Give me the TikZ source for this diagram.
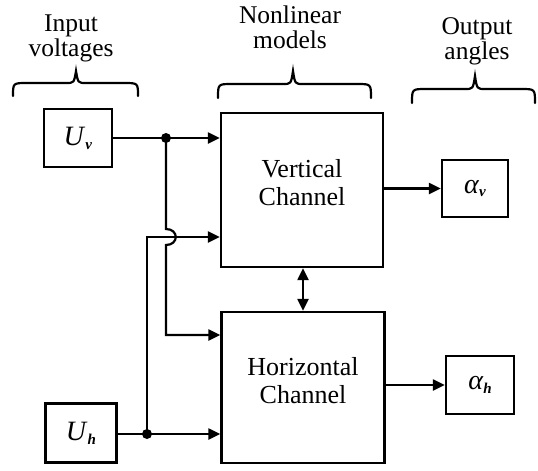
\documentclass[tikz,border=0pt]{standalone}
\usepackage{fontspec}
\setmainfont{Liberation Serif}
\usetikzlibrary{arrows.meta}
\newcommand\mylbl[2]{\textit{#1}\raisebox{-0.3ex}{\fontsize{15}{15}\selectfont\textbf{\textit{#2}}}}
\begin{document}
\begin{tikzpicture}[x=1pt,y=-1pt,
  line width=2.2pt,
  txt/.style={font=\fontsize{25.5}{25}\selectfont, align=center, inner sep=0pt},
  chn/.style={font=\fontsize{26}{28}\selectfont, align=center, inner sep=0pt},
  blk/.style={draw, line width=2.3pt, inner sep=0pt, font=\fontsize{28}{28}\selectfont},
  arr/.style={-{Triangle[length=12pt,width=11pt]}},
  dot/.style={circle, fill, inner sep=0pt, minimum size=10pt},
  brc/.style={line width=2.2pt, line cap=round}
]
\useasboundingbox (0,0) rectangle (538,471);

% headers
\node[txt] (hIn) at (71,38) {Input\\voltages};
\node[txt] (hNl) at (290,27) {Nonlinear\\models};
\node[txt] (hOut) at (477,41) {Output\\angles};

% braces
\draw[brc] (13,96) .. controls (13,83) .. (27,83) -- (66,83) .. controls (74,83) .. (76,71)
  .. controls (78,83) .. (86,83) -- (124,83) .. controls (138,83) .. (138,96);
\draw[brc] (218,98) .. controls (218,84) .. (232,84) -- (283,84) .. controls (291,84) .. (293,71)
  .. controls (295,84) .. (303,84) -- (357,84) .. controls (371,84) .. (371,98);
\draw[brc] (412,103) .. controls (412,89) .. (426,89) -- (465,89) .. controls (473,89) .. (475,76)
  .. controls (477,89) .. (485,89) -- (521,89) .. controls (535,89) .. (535,103);

% blocks
\node[blk, minimum width=68pt, minimum height=58pt] (Uv) at (78,138) {\mylbl{U}{v}};
\node[blk, minimum width=71pt, minimum height=59pt] (Uh) at (81,433) {\mylbl{U}{h}};
\node[blk, minimum width=162pt, minimum height=154pt,
  label={[chn, yshift=7pt]center:Vertical\\Channel}] (Vc) at (302,190) {};
\node[blk, minimum width=163pt, minimum height=151pt,
  label={[chn, yshift=7pt]center:Horizontal\\Channel}] (Hc) at (303,387.5) {};
\node[blk, minimum width=66pt, minimum height=57pt] (Av) at (475,188.5) {\mylbl{α}{v}};
\node[blk, minimum width=68pt, minimum height=58pt] (Ah) at (480,385) {\mylbl{α}{h}};

% junctions
\node[dot] (j1) at (166,138) {};
\node[dot] (j2) at (147,434) {};
\coordinate (hopA) at (166,229);
\coordinate (hopB) at (166,245);
\coordinate (b1) at (166,335);
\coordinate (b2) at (147,237);

% connectors
\draw[arr] (Uv.east) -- (Vc.west |- Uv.east);
\draw[arr] (j1.center) -- (hopA) .. controls (179,229) and (179,245) .. (hopB) -- (b1) -- (Hc.west |- b1);
\draw[arr] (Uh.east |- j2) -- (Hc.west |- j2);
\draw[arr] (j2.center) -- (b2) -- (Vc.west |- b2);
\draw[{Triangle[length=12pt,width=11pt]}-{Triangle[length=12pt,width=11pt]}] (Vc.south -| 303,0) -- (Hc.north -| 303,0);
\draw[arr] (Vc.east |- Av.west) -- (Av.west);
\draw[arr] (Hc.east |- Ah.west) -- (Ah.west);
\end{tikzpicture}
\end{document}
